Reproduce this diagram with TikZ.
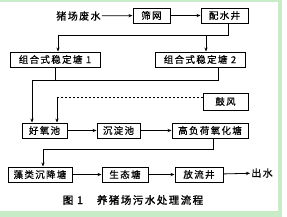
\documentclass[tikz,border=0pt]{standalone}
\usepackage{fontspec}
\setmainfont{Noto Sans CJK SC}[LetterSpace=14,FakeBold=0.6]
\usetikzlibrary{arrows.meta}
\definecolor{edgegreen}{RGB}{200,236,200}
\tikzset{
  stepbox/.style={draw,line width=1pt,minimum height=15pt,inner sep=0pt,font=\fontsize{9.5}{9.5}\selectfont},
  flow/.style={line width=.8pt,-{Stealth[length=4pt,width=3.2pt]}},
  wire/.style={line width=.8pt}
}
\begin{document}
\begin{tikzpicture}[x=1pt,y=-1pt]
\useasboundingbox (0,0) rectangle (287,217);
% green frame of the scan
\fill[edgegreen] (0,0) rectangle (282,2);
\fill[edgegreen] (278,0) rectangle (282,217);
\fill[edgegreen] (0,211) rectangle (282,217);
% boxes
\node[inner sep=1pt,font=\fontsize{10}{10}\selectfont] (src) at (78.5,16) {猪场废水};
\node[stepbox,minimum width=37pt] (sw) at (151.5,15.5) {筛网};
\node[stepbox,minimum width=47pt] (pj) at (224.5,15.5) {配水井};
\node[stepbox,minimum width=90pt] (z1) at (55,59.5) {组合式稳定塘 1};
\node[stepbox,minimum width=90pt] (z2) at (200,59.5) {组合式稳定塘 2};
\node[stepbox,minimum width=45pt,minimum height=17pt] (gf) at (225.5,101.5) {鼓风};
\node[stepbox,minimum width=45pt] (hy) at (44.5,130.5) {好氧池};
\node[stepbox,minimum width=43pt] (cd) at (118.5,130.5) {沉淀池};
\node[stepbox,minimum width=76pt] (gh) at (210,130.5) {高负荷氧化塘};
\node[stepbox,minimum width=64pt] (zl) at (40,174.5) {藻类沉降塘};
\node[stepbox,minimum width=46pt] (st) at (125,174.5) {生态塘};
\node[stepbox,minimum width=48pt] (fl) at (199,174.5) {放流井};
\node[inner sep=1pt,font=\fontsize{10}{10}\selectfont] (cs) at (262,173) {出水};
\node[font=\fontsize{10.5}{10.5}\selectfont\addfontfeatures{FakeBold=1.5}] (cap) at (133,200) {图 1\hspace{14pt}养猪场污水处理流程};
% joints
\coordinate (j1) at (228,35);
\coordinate (s1) at (58,35);
\coordinate (s2) at (206,35);
\coordinate (u1) at (55,80);
\coordinate (u2) at (218,80);
\coordinate (j2) at (32,80);
\coordinate (j3) at (57,97);
\coordinate (v1) at (213,149);
\coordinate (j4) at (43,149);
% connectors
\foreach \a/\b in {src/sw,sw/pj,hy/cd,cd/gh,zl/st,st/fl,fl/cs}
  \draw[flow] (\a) -- (\b);
\draw[wire] (pj.south -| j1) -- (j1) -- (s1);
\draw[flow] (s1) -- (s1 |- z1.north);
\draw[flow] (s2) -- (s2 |- z2.north);
\draw[wire] (u1 |- z1.south) -- (u1);
\draw[wire] (u2 |- z2.south) -- (u2) -- (j2);
\draw[flow] (j2) -- (j2 |- hy.north);
\draw[wire,dash pattern=on 2pt off 2pt] (gf.west |- j3) -- (j3);
\draw[flow] (j3) -- (j3 |- hy.north);
\draw[wire] (v1 |- gh.south) -- (v1) -- (j4);
\draw[flow] (j4) -- (j4 |- zl.north);
\end{tikzpicture}
\end{document}
